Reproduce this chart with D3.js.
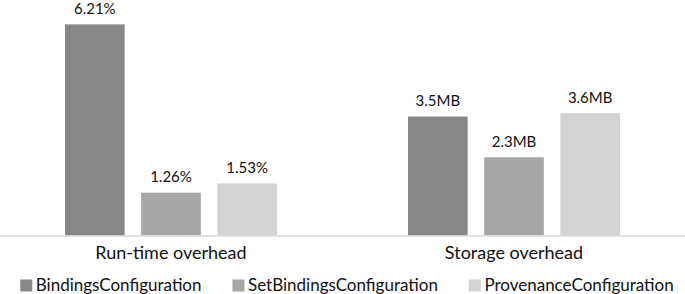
<!DOCTYPE html>
<html>
<head>
<meta charset="utf-8">
<script src="https://cdn.jsdelivr.net/npm/d3@7"></script>
<style>
  body { margin: 0; background: #fff; }
  svg { display: block; font-family: Lato, sans-serif; }
</style>
</head>
<body>
<svg id="chart" width="685" height="294"></svg>
<script>
// chart data
const categories = ['Run-time overhead', 'Storage overhead'];
const seriesNames = ['BindingsConfiguration', 'SetBindingsConfiguration', 'ProvenanceConfiguration'];
const seriesColors = ['#878787', '#a6a6a6', '#d3d3d3'];
const values = [
  [6.21, 1.26, 1.53],
  [3.5, 2.3, 3.6]
];
const valueLabels = [
  ['6.21%', '1.26%', '1.53%'],
  ['3.5MB', '2.3MB', '3.6MB']
];

const svg = d3.select('#chart');
const width = 685;
const baseline = 235.5;

// outer band for the two groups, inner band for the three bars
const x0 = d3.scaleBand().domain(categories).range([-0.5, 685.5]);
const x1 = d3.scaleBand().domain(seriesNames).range([0, 212]).paddingInner(0.217);
const groupOffset = (x0.bandwidth() - 212) / 2;

// one shared value axis (~34px per unit)
const y = d3.scaleLinear().domain([0, 7]).range([baseline, baseline - 7 * 34]);

const groups = svg.append('g')
  .selectAll('g')
  .data(categories)
  .join('g')
  .attr('transform', d => `translate(${x0(d) + groupOffset},0)`);

groups.selectAll('rect')
  .data((d, i) => values[i].map((v, j) => ({ v, j, label: valueLabels[i][j] })))
  .join('rect')
  .attr('x', d => x1(seriesNames[d.j]))
  .attr('y', d => y(d.v))
  .attr('width', x1.bandwidth())
  .attr('height', d => y(0) - y(d.v))
  .attr('fill', d => seriesColors[d.j]);

groups.selectAll('text.val')
  .data((d, i) => values[i].map((v, j) => ({ v, j, label: valueLabels[i][j] })))
  .join('text')
  .attr('class', 'val')
  .attr('x', d => x1(seriesNames[d.j]) + x1.bandwidth() / 2)
  .attr('y', d => y(d.v) - 10.5)
  .attr('text-anchor', 'middle')
  .attr('font-size', 15)
  .attr('fill', '#111')
  .text(d => d.label);

// category axis line
svg.append('line')
  .attr('x1', 0).attr('x2', width)
  .attr('y1', baseline + 0.5).attr('y2', baseline + 0.5)
  .attr('stroke', '#d9d9d9')
  .attr('stroke-width', 1.5);

svg.append('g')
  .selectAll('text')
  .data(categories)
  .join('text')
  .attr('x', d => x0(d) + x0.bandwidth() / 2)
  .attr('y', 258.5)
  .attr('text-anchor', 'middle')
  .attr('font-size', 18)
  .attr('fill', '#111')
  .text(d => d);

// legend, laid out from measured text widths
const legend = svg.append('g');
const items = legend.selectAll('g')
  .data(seriesNames)
  .join('g');
items.append('rect')
  .attr('width', 12).attr('height', 12)
  .attr('y', 279.5)
  .attr('fill', (d, i) => seriesColors[i]);
items.append('text')
  .attr('x', 15.5)
  .attr('y', 291)
  .attr('font-size', 17)
  .attr('fill', '#111')
  .text(d => d);

let cursor = 0;
const gap = 31;
items.each(function () {
  const w = d3.select(this).select('text').node().getComputedTextLength();
  d3.select(this).attr('transform', `translate(${cursor},0)`);
  cursor += 15.5 + w + gap;
});
const totalWidth = cursor - gap;
legend.attr('transform', `translate(${347 - totalWidth / 2},0)`);
</script>
</body>
</html>
